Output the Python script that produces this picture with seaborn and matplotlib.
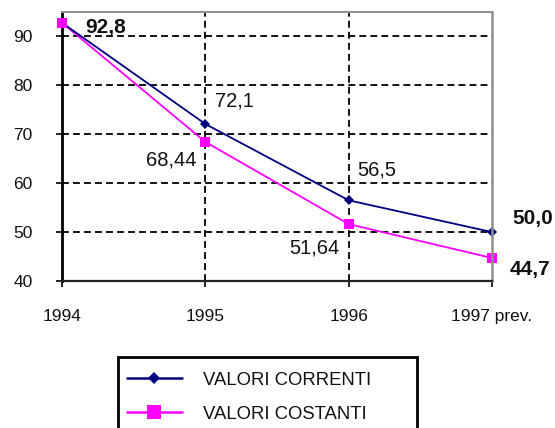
import matplotlib
matplotlib.use("Agg")
import matplotlib.pyplot as plt
import seaborn as sns
import pandas as pd
from matplotlib.lines import Line2D
from matplotlib.patches import Rectangle

years = ["1994", "1995", "1996", "1997 prev."]
correnti = [92.8, 72.1, 56.5, 50.0]
costanti = [92.8, 68.44, 51.64, 44.7]
labels_correnti = ["92,8", "72,1", "56,5", "50,0"]
labels_costanti = ["", "68,44", "51,64", "44,7"]
yticks = [40, 50, 60, 70, 80, 90]

sns.set_style("white")
plt.rcParams['font.family'] = ['Liberation Sans', 'DejaVu Sans']

df = pd.DataFrame({"anno": years * 2,
                   "valore": correnti + costanti,
                   "serie": ["VALORI CORRENTI"] * 4 + ["VALORI COSTANTI"] * 4})

fig = plt.figure(figsize=(5.55, 4.28), dpi=100)
ax = fig.add_axes([62/555, 1-281/428, 430/555, 269/428])

navy = "#000080"
mag = "#FF00FF"
sq_ms = 7
dm_ms = 5.5
sns.lineplot(data=df[df.serie == "VALORI COSTANTI"], x="anno", y="valore", ax=ax,
             color=mag, marker="s", markersize=sq_ms, markeredgewidth=0, lw=1.3,
             legend=False, sort=False)
sns.lineplot(data=df[df.serie == "VALORI CORRENTI"], x="anno", y="valore", ax=ax,
             color=navy, marker="D", markersize=dm_ms, markeredgewidth=0, lw=1.3,
             legend=False, sort=False)
# first magenta marker drawn on top (as in reference)
ax.plot([0], [costanti[0]], marker="s", color=mag, markersize=sq_ms, markeredgewidth=0,
        zorder=5, clip_on=False)
for l in ax.lines:
    l.set_clip_on(False)

ax.set_xlim(0, 3)
ax.set_ylim(40, 95)
ax.set_yticks(yticks)
ax.set_xticks(range(len(years)))
ax.set_xticklabels(years)
ax.set_xlabel("")
ax.set_ylabel("")

for y in [50, 60, 70, 80, 90]:
    ax.axhline(y, color="black", lw=1.3, ls=(0, (3.8, 2.3)), zorder=1)
for x in [1, 2]:
    ax.axvline(x, color="black", lw=1.3, ls=(0, (3.8, 2.3)), zorder=1)

ax.tick_params(axis="y", labelsize=12.5, length=4, width=1.2, direction="out", left=True, pad=17, colors="black")
ax.tick_params(axis="x", labelsize=12.5, length=4, width=1.2, direction="out", bottom=True, pad=16, colors="black")
for lab in ax.get_yticklabels() + ax.get_xticklabels():
    lab.set_color("#111111")

ax.spines["left"].set_color("black")
ax.spines["left"].set_linewidth(2)
ax.spines["bottom"].set_color("#222222")
ax.spines["bottom"].set_linewidth(1.6)
ax.spines["top"].set_color("#909090")
ax.spines["top"].set_linewidth(1.5)
ax.spines["right"].set_color("#909090")
ax.spines["right"].set_linewidth(1.8)

# data labels (offsets in points from each data point)
offs_c = [(16.5, -3.6), (7, 16.5), (6.5, 21.6), (14.4, 10)]
ha_c = ["left", "left", "left", "left"]
offs_k = [(0, 0), (-6.5, -13), (-6.5, -17), (13, -8.6)]
ha_k = ["left", "right", "right", "left"]
bold_c = [True, False, False, True]
bold_k = [False, False, False, True]
for i in range(4):
    ax.annotate(labels_correnti[i], (i, correnti[i]), xytext=offs_c[i], textcoords="offset points",
                fontsize=15 if bold_c[i] else 14.5, fontweight="bold" if bold_c[i] else "normal",
                color="#111111", va="center", ha=ha_c[i], annotation_clip=False)
    if labels_costanti[i]:
        ax.annotate(labels_costanti[i], (i, costanti[i]), xytext=offs_k[i], textcoords="offset points",
                    fontsize=15 if bold_k[i] else 14.5, fontweight="bold" if bold_k[i] else "normal",
                    color="#111111", va="center", ha=ha_k[i], annotation_clip=False)

handles = [Line2D([], [], color=navy, marker="D", markersize=6.5, lw=1.8, markeredgewidth=0),
           Line2D([], [], color=mag, marker="s", markersize=10, lw=1.8, markeredgewidth=0)]
leg = fig.legend(handles, ["VALORI CORRENTI", "VALORI COSTANTI"], loc="upper left",
                 bbox_to_anchor=(112/555, 0, 299/555, 1-357/428), mode="expand",
                 fontsize=13.3, handlelength=3.0, handletextpad=1.15, labelspacing=0.93,
                 borderpad=0.8, frameon=False, borderaxespad=0)
for t in leg.get_texts():
    t.set_color("#111111")

# legend box, running past the bottom edge of the figure as in the reference
fig.add_artist(Rectangle((118/555, -0.1), 299/555, (1-357/428) + 0.1,
                         transform=fig.transFigure, fill=False, ec="black", lw=2))

fig.savefig("out.png", dpi=100)
